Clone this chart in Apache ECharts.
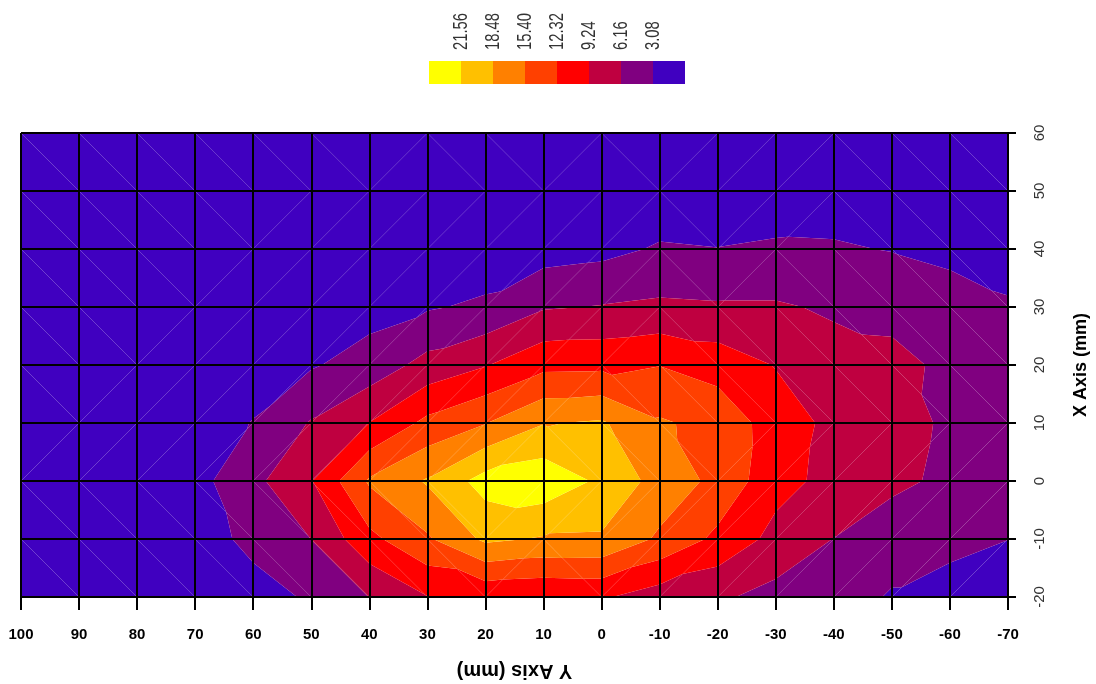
<!DOCTYPE html>
<html>
<head>
<meta charset="utf-8">
<title>Contour map</title>
<script src="https://cdn.jsdelivr.net/npm/echarts@6.0.0/dist/echarts.min.js"></script>
<style>
  html, body { margin: 0; padding: 0; background: #fff; }
  #chart { width: 1096px; height: 684px; }
</style>
</head>
<body>
<div id="chart"></div>
<script>
// Grid node positions (mm)
const xNodes = [100, 90, 80, 70, 60, 50, 40, 30, 20, 10, 0, -10, -20, -30, -40, -50, -60, -70];
const yNodes = [60, 50, 40, 30, 20, 10, 0, -10, -20];

// Measured value at every node, one array per row of constant Y (same order as xNodes)
const zRow60  = [0.3, 0.3, 0.3, 0.3, 0.3, 0.3, 0.3, 0.3, 0.3, 0.3, 0.3, 0.3, 0.4, 0.4, 0.5, 0.5, 0.4, 0.4];
const zRow50  = [0.5, 0.5, 0.5, 0.5, 0.5, 0.5, 0.5, 0.6, 0.6, 0.6, 0.9, 0.9, 1.0, 1.3, 1.5, 1.2, 1.0, 0.9];
const zRow40  = [0.8, 0.8, 0.8, 0.8, 0.8, 0.9, 1.0, 1.0, 1.2, 1.7, 2.2, 3.4, 3.15, 3.5, 3.4, 2.94, 2.28, 1.8];
const zRow30  = [1.0, 1.0, 1.0, 1.0, 1.3, 1.6, 2.0, 2.8, 3.6, 5.9, 6.3, 6.7, 6.5, 6.5, 5.76, 5.7, 4.5, 3.4];
const zRow20  = [1.1, 1.1, 1.1, 1.2, 1.6, 2.8, 4.3, 7.2, 9.06, 11.5, 11.6, 12.25, 11.0, 9.1, 7.3, 6.6, 5.83, 4.5];
const zRow10  = [1.2, 1.2, 1.3, 1.6, 3.2, 6.4, 9.3, 13.1, 15.3, 18.3, 18.85, 15.75, 14.5, 10.8, 8.5, 7.2, 5.74, 4.7];
const zRow0   = [1.2, 1.3, 1.5, 2.06, 5.35, 9.1, 15.8, 18.8, 22.8, 23.7, 21.0, 17.3, 14.6, 10.3, 8.3, 7.0, 5.38, 4.5];
const zRowM10 = [1.1, 1.2, 1.3, 1.5, 3.97, 6.2, 11.5, 15.0, 19.1, 18.2, 18.1, 14.9, 11.6, 8.3, 6.1, 4.0, 4.0, 3.12];
const zRowM20 = [1.0, 1.0, 1.0, 1.0, 1.8, 3.5, 6.2, 9.15, 9.8, 9.4, 9.6, 7.7, 6.6, 5.2, 4.0, 2.9, 1.76, 1.5];

// Contour levels and the fill of each band (lowest band first)
const levels = [3.08, 6.16, 9.24, 12.32, 15.40, 18.48, 21.56];
const bandColors = ['#4000C0', '#800080', '#BF0040', '#FF0000', '#FF4000', '#FF8000', '#FFC000', '#FFFF00'];
// Legend captions, highest level first
const levelLabels = ['21.56', '18.48', '15.40', '12.32', '9.24', '6.16', '3.08'];

const zRows = [zRow60, zRow50, zRow40, zRow30, zRow20, zRow10, zRow0, zRowM10, zRowM20];

function node(i, j) {
  return [xNodes[i], yNodes[j], zRows[j][i]];
}

// Keep the part of a polygon on one side of a level (values vary linearly)
function clipPoly(poly, level, keepAbove) {
  const out = [];
  for (let k = 0; k < poly.length; k++) {
    const a = poly[k];
    const b = poly[(k + 1) % poly.length];
    const ina = keepAbove ? a[2] >= level : a[2] <= level;
    const inb = keepAbove ? b[2] >= level : b[2] <= level;
    if (ina) out.push(a);
    if (ina !== inb) {
      const t = (level - a[2]) / (b[2] - a[2]);
      out.push([a[0] + t * (b[0] - a[0]), a[1] + t * (b[1] - a[1]), level]);
    }
  }
  return out;
}

// Split every cell into two triangles and cut each triangle into filled bands
const bandPolys = [];
for (let j = 0; j < yNodes.length - 1; j++) {
  for (let i = 0; i < xNodes.length - 1; i++) {
    const a = node(i, j), b = node(i + 1, j), c = node(i + 1, j + 1), d = node(i, j + 1);
    const tris = Math.abs(a[2] - c[2]) <= Math.abs(b[2] - d[2])
      ? [[a, b, c], [a, c, d]]
      : [[a, b, d], [b, c, d]];
    for (const tri of tris) {
      for (let k = 0; k < bandColors.length; k++) {
        let p = tri;
        if (k > 0) p = clipPoly(p, levels[k - 1], true);
        if (p.length >= 3 && k < levels.length) p = clipPoly(p, levels[k], false);
        if (p.length >= 3) {
          const pts = p.map(q => [q[0], q[1]]);
          const cx = pts.reduce((s, q) => s + q[0], 0) / pts.length;
          const cy = pts.reduce((s, q) => s + q[1], 0) / pts.length;
          bandPolys.push({ band: k, pts, cx, cy });
        }
      }
    }
  }
}

const sansFont = '"Liberation Sans", Arial, sans-serif';

// Colour key above the plot
const keyLeft = 429, keyTop = 61, keyCellW = 32, keyCellH = 23, keyTextBase = 50;
const keyGraphics = [];
bandColors.slice().reverse().forEach((c, k) => {
  keyGraphics.push({
    type: 'rect',
    shape: { x: keyLeft + k * keyCellW, y: keyTop, width: keyCellW, height: keyCellH },
    style: { fill: c }
  });
});
levelLabels.forEach((t, k) => {
  keyGraphics.push({
    type: 'text',
    x: keyLeft + (k + 1) * keyCellW,
    y: keyTextBase,
    rotation: Math.PI / 2,
    scaleX: 0.74,
    style: {
      text: t, align: 'left', verticalAlign: 'middle',
      fill: '#333', fontSize: 20, fontFamily: sansFont
    }
  });
});

const chart = echarts.init(document.getElementById('chart'), null, { renderer: 'canvas' });
chart.setOption({
  animation: false,
  backgroundColor: '#fff',
  grid: { left: 21, right: 88, top: 133, bottom: 87, containLabel: false, outerBoundsMode: 'none' },
  xAxis: {
    type: 'value', min: -70, max: 100, interval: 10, inverse: true, position: 'bottom',
    axisLine: { show: true, onZero: false, lineStyle: { color: '#000', width: 2 } },
    axisTick: { show: true, length: 13, lineStyle: { color: '#000', width: 2 } },
    axisLabel: { margin: 30, color: '#000', fontSize: 15, fontWeight: 'bold', fontFamily: sansFont },
    splitLine: { show: true, lineStyle: { color: '#000', width: 2 } },
    name: 'Y Axis (mm)', nameLocation: 'middle', nameGap: 64, nameRotate: 180,
    nameTextStyle: { color: '#000', fontSize: 20, fontWeight: 'bold', fontFamily: sansFont },
    z: 5
  },
  yAxis: {
    type: 'value', min: -20, max: 60, interval: 10, position: 'right',
    axisLine: { show: true, onZero: false, lineStyle: { color: '#000', width: 2 } },
    axisTick: { show: true, length: 8, lineStyle: { color: '#000', width: 2 } },
    axisLabel: { rotate: 90, margin: 24, color: '#333', fontSize: 15, fontFamily: sansFont },
    splitLine: { show: true, lineStyle: { color: '#000', width: 2 } },
    name: 'X Axis (mm)', nameLocation: 'middle', nameGap: 64, nameRotate: 90,
    nameTextStyle: { color: '#000', fontSize: 18, fontWeight: 'bold', fontFamily: sansFont },
    z: 5
  },
  graphic: keyGraphics,
  series: [{
    type: 'custom',
    coordinateSystem: 'cartesian2d',
    clip: true,
    silent: true,
    z: 1,
    data: bandPolys.map(p => [p.cx, p.cy]),
    renderItem: function (params, api) {
      const poly = bandPolys[params.dataIndex];
      return {
        type: 'polygon',
        shape: { points: poly.pts.map(q => api.coord(q)) },
        style: { fill: bandColors[poly.band] }
      };
    }
  }]
});
</script>
</body>
</html>
